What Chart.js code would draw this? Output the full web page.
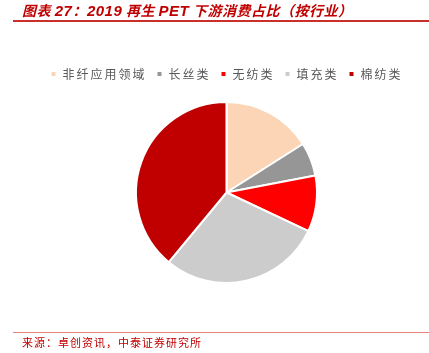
<!DOCTYPE html>
<html>
<head>
<meta charset="utf-8">
<script src="https://cdn.jsdelivr.net/npm/chart.js@4/dist/chart.umd.min.js"></script>
<style>
	html, body { margin: 0; padding: 0; background: #fff; }
	body { width: 429px; height: 353px; position: relative; overflow: hidden; font-family: "Noto Sans CJK SC", sans-serif; }
	#title { position: absolute; left: 22px; top: 1px; font-size: 14px; font-weight: bold; font-style: italic; color: #c00000; line-height: 18px; letter-spacing: 0.5px; white-space: nowrap; }
	#title b { font-family: "Liberation Sans", Arial, sans-serif; font-size: 15px; }
	#titleLine { position: absolute; left: 13px; right: 0; top: 20px; height: 2px; background: #c9302c; }
	#footLine { position: absolute; left: 13px; right: 0; top: 332px; height: 1px; background: #e88080; }
	#source { position: absolute; left: 22px; top: 334px; font-size: 11px; color: #c00000; letter-spacing: 1px; line-height: 16px; white-space: nowrap; }
	#wrap { position: absolute; left: 0; top: 0; width: 429px; height: 353px; }
</style>
</head>
<body>
<div id="wrap"><canvas id="pie"></canvas></div>
<div id="title">图表 <b>27</b>：<b>2019</b> 再生 <b>PET</b> 下游消费占比（按行业）</div>
<div id="titleLine"></div>
<div id="footLine"></div>
<div id="source">来源：卓创资讯，中泰证券研究所</div>
<script>
	// 2019 再生PET下游消费占比 (%)
	let categories = ['非纤应用领域', '长丝类', '无纺类', '填充类', '棉纺类'];
	let shares = [16, 6, 10, 29, 39];
	let colors = ['#fbd5b5', '#969696', '#ff0000', '#cccccc', '#c00000'];

	// extra room under the legend, letter spacing for the legend text
	const legendGap = {
		id: 'legendGap',
		beforeInit(chart) { chart.ctx.letterSpacing = '2px'; },
		afterInit(chart) {
			chart.ctx.letterSpacing = '2px';
			const orig = chart.legend.fit;
			chart.legend.fit = function () {
				orig.bind(chart.legend)();
				this.height += 11;
			};
		},
		beforeUpdate(chart) { chart.ctx.letterSpacing = '2px'; }
	};

	new Chart(document.getElementById('pie'), {
		type: 'pie',
		data: {
			labels: categories,
			datasets: [{
				data: shares,
				backgroundColor: colors,
				borderColor: '#fff',
				borderWidth: 2
			}]
		},
		options: {
			responsive: true,
			maintainAspectRatio: false,
			animation: false,
			layout: { padding: { top: 58, left: 24, right: 0, bottom: 69 } },
			plugins: {
				tooltip: { enabled: false },
				legend: {
					position: 'top',
					labels: {
						boxWidth: 6,
						boxHeight: 6,
						padding: 10,
						color: '#595959',
						font: { size: 12, family: '"Noto Sans CJK SC", sans-serif' }
					}
				}
			}
		},
		plugins: [legendGap]
	});
</script>
</body>
</html>
